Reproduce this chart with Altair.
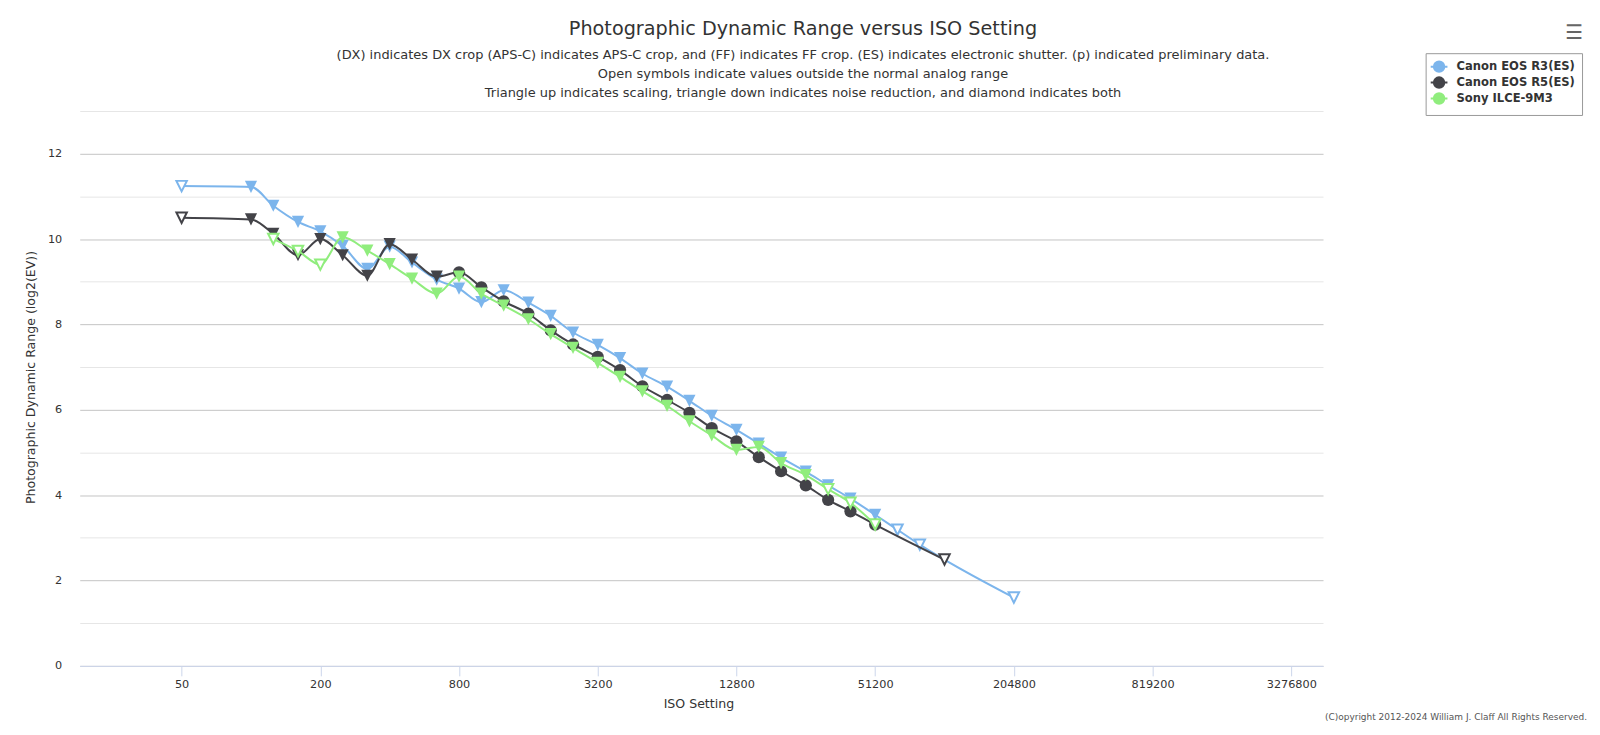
import altair as alt
import pandas as pd

TITLE = "Photographic Dynamic Range versus ISO Setting"
SUBTITLE = [
    "(DX) indicates DX crop (APS-C) indicates APS-C crop, and (FF) indicates FF crop. (ES) indicates electronic shutter. (p) indicated preliminary data.",
    "Open symbols indicate values outside the normal analog range",
    "Triangle up indicates scaling, triangle down indicates noise reduction, and diamond indicates both",
]
COPYRIGHT = "(C)opyright 2012-2024 William J. Claff All Rights Reserved."
X_TITLE = "ISO Setting"
Y_TITLE = "Photographic Dynamic Range (log2(EV))"

SERIES = ["Canon EOS R3(ES)", "Canon EOS R5(ES)", "Sony ILCE-9M3"]
COLORS = ["#7cb5ec", "#434348", "#90ed7d"]

X_TICKS = [50, 200, 800, 3200, 12800, 51200, 204800, 819200, 3276800]
Y_TICKS = list(range(0, 14))

R3_ISO = [50, 100, 125, 160, 200, 250, 320, 400, 500, 640, 800, 1000, 1250, 1600, 2000, 2500,
          3200, 4000, 5000, 6400, 8000, 10000, 12800, 16000, 20000, 25600, 32000, 40000, 51200,
          64000, 80000, 204800]
R3_DR = [11.24, 11.22, 10.78, 10.40, 10.18, 9.84, 9.30, 9.82, 9.45, 9.05, 8.84, 8.52, 8.80, 8.51,
         8.20, 7.81, 7.52, 7.21, 6.85, 6.54, 6.21, 5.86, 5.53, 5.21, 4.88, 4.55, 4.23, 3.92, 3.54,
         3.19, 2.84, 1.60]
R3_OPEN = [50, 64000, 80000, 204800]
R3_CIRCLE = []

R5_ISO = [50, 100, 125, 160, 200, 250, 320, 400, 500, 640, 800, 1000, 1250, 1600, 2000, 2500,
          3200, 4000, 5000, 6400, 8000, 10000, 12800, 16000, 20000, 25600, 32000, 40000, 51200,
          102400]
R5_DR = [10.50, 10.46, 10.12, 9.62, 10.00, 9.62, 9.14, 9.88, 9.52, 9.12, 9.22, 8.87, 8.54, 8.25,
         7.86, 7.53, 7.24, 6.93, 6.55, 6.23, 5.93, 5.57, 5.26, 4.89, 4.56, 4.23, 3.89, 3.62, 3.31,
         2.49]
R5_OPEN = [50, 102400]
R5_CIRCLE = [800, 1000, 1250, 1600, 2000, 2500, 3200, 4000, 5000, 6400, 8000, 10000, 12800,
             16000, 20000, 25600, 32000, 40000, 51200]

A9_ISO = [125, 160, 200, 250, 320, 400, 500, 640, 800, 1000, 1250, 1600, 2000, 2500, 3200, 4000,
          5000, 6400, 8000, 10000, 12800, 16000, 20000, 25600, 32000, 40000, 51200]
A9_DR = [10.00, 9.72, 9.40, 10.04, 9.73, 9.41, 9.07, 8.72, 9.12, 8.72, 8.44, 8.12, 7.77, 7.45,
         7.10, 6.77, 6.43, 6.09, 5.73, 5.40, 5.06, 5.13, 4.75, 4.47, 4.14, 3.82, 3.31]
A9_OPEN = [125, 160, 200, 32000, 40000, 51200]
A9_CIRCLE = []

rows = []
for name, isos, drs, opens, circles in [
    (SERIES[0], R3_ISO, R3_DR, R3_OPEN, R3_CIRCLE),
    (SERIES[1], R5_ISO, R5_DR, R5_OPEN, R5_CIRCLE),
    (SERIES[2], A9_ISO, A9_DR, A9_OPEN, A9_CIRCLE),
]:
    for iso, dr in zip(isos, drs):
        rows.append({
            "series": name,
            "iso": iso,
            "dr": dr,
            "open": 1 if iso in opens else 0,
            "marker": "dot" if iso in circles else "tri",
        })
df = pd.DataFrame(rows)

FONT = "DejaVu Sans"
TRI = "M -1 -1 L 1 -1 L 0 1 Z"
LEG_SYM = "M -1.6 0 L 1.6 0 M 1 0 A 1 1 0 1 1 -1 0 A 1 1 0 1 1 1 0 Z"

color_scale = alt.Scale(domain=SERIES, range=COLORS)
shape_scale = alt.Scale(domain=["tri", "dot"], range=[TRI, "circle"])

LEG = alt.Legend(
    title=None, orient="none", legendX=1351, legendY=-58, direction="vertical",
    symbolType=LEG_SYM, symbolSize=110, symbolStrokeWidth=2, symbolOpacity=1,
    labelFont=FONT, labelFontSize=11.6, labelFontWeight="bold", labelColor="#333333",
    strokeColor="#999999", fillColor="white", padding=7, rowPadding=-3.5,
    labelOffset=11, cornerRadius=0, labelLimit=400,
)

x_enc = alt.X(
    "iso:Q",
    scale=alt.Scale(type="log", base=2, domain=[18.06, 4500000], nice=False),
    axis=alt.Axis(
        values=X_TICKS, format="d", title=X_TITLE, grid=False,
        domainColor="#ccd6eb", tickColor="#ccd6eb", tickSize=10, labelPadding=3,
        labelFont=FONT, labelFontSize=11.3, labelColor="#333333", labelFlush=False,
        titleFont=FONT, titleFontSize=12.6, titleFontWeight="normal", titleColor="#333333",
        titlePadding=7, titleX=621, zindex=1,
    ),
)
y_enc = alt.Y(
    "dr:Q",
    scale=alt.Scale(domain=[0, 13], nice=False),
    axis=alt.Axis(
        values=Y_TICKS, labelExpr="datum.value % 2 == 0 ? datum.label : ''",
        gridColor=alt.condition("datum.value % 2 == 0", alt.value("#c4c4c4"), alt.value("#e6e6e6")),
        domain=False, ticks=False, labelPadding=18,
        labelFont=FONT, labelFontSize=11.3, labelColor="#333333",
        title=Y_TITLE, titleFont=FONT, titleFontSize=12.6, titleFontWeight="normal",
        titleColor="#333333", titleX=-49, titleY=267, titleBaseline="middle", titleAngle=270,
    ),
)

color_enc = alt.Color("series:N", scale=color_scale, legend=LEG)

layers = []
for i, name in enumerate(SERIES):
    base = alt.Chart(df).transform_filter(alt.datum.series == name)
    line = base.mark_line(interpolate="monotone", strokeWidth=2).encode(
        x=x_enc, y=y_enc, color=color_enc,
    )
    filled = base.transform_filter(alt.datum.open == 0).mark_point(
        filled=True, size=150, opacity=1
    ).encode(
        x=x_enc, y=y_enc, color=color_enc,
        shape=alt.Shape("marker:N", scale=shape_scale, legend=None),
    )
    opened = base.transform_filter(alt.datum.open == 1).mark_point(
        filled=False, fill="white", size=110, strokeWidth=2, opacity=1
    ).encode(
        x=x_enc, y=y_enc, color=color_enc,
        shape=alt.Shape("marker:N", scale=shape_scale, legend=None),
    )
    layers += [line, filled, opened]

copyright = alt.Chart(alt.Data(values=[{"t": COPYRIGHT}])).mark_text(
    align="right", baseline="middle", font=FONT, fontSize=9, color="#555555"
).encode(text="t:N", x=alt.value(1513), y=alt.value(608))

menu = alt.Chart(alt.Data(values=[{"t": "\u2630"}])).mark_text(
    align="center", baseline="middle", font=FONT, fontSize=20, fontWeight="bold", color="#666666"
).encode(text="t:N", x=alt.value(1500), y=alt.value(-78))

chart = alt.layer(*layers, copyright, menu).properties(
    width=1248, height=557,
    padding={"left": 72, "top": 102, "right": 270, "bottom": 60},
    autosize=alt.AutoSizeParams(type="none"),
    background="white",
    title=alt.TitleParams(
        text=TITLE, subtitle=SUBTITLE, anchor="middle", frame="group",
        font=FONT, fontSize=19.3, fontWeight="normal", color="#333333",
        subtitleFont=FONT, subtitleFontSize=13, subtitleColor="#333333",
        subtitleLineHeight=19, subtitlePadding=9.5, offset=10, dy=86.5, dx=102,
    ),
).configure_view(stroke=None)

chart.save("out.html", embed_options={"renderer": "svg", "actions": False})
